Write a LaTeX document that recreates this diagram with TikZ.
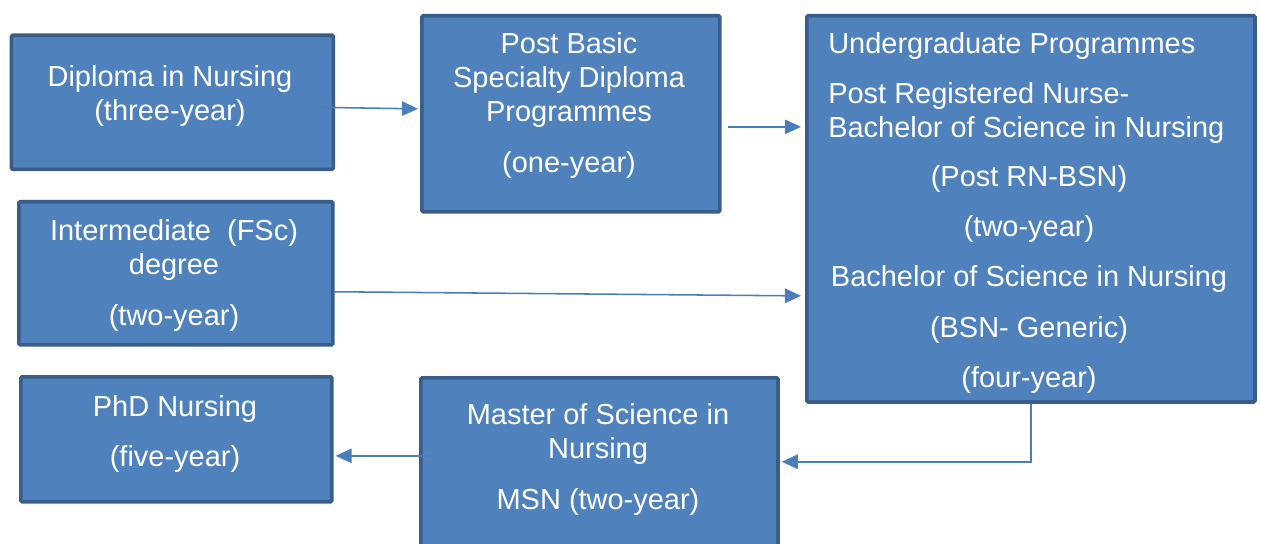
\documentclass[tikz,border=0pt]{standalone}
\usepackage{fontspec}
\setmainfont{Liberation Sans}
\usepackage{tikz}
\usetikzlibrary{positioning,calc,arrows.meta}
\definecolor{nsfill}{HTML}{4F81BD}
\definecolor{nsedge}{HTML}{385D8A}
\definecolor{nsline}{HTML}{4A7EBB}

\begin{document}
\begin{tikzpicture}[x=0.025cm, y=-0.025cm,
  box/.style={draw=nsedge, fill=nsfill, line width=2.6pt, rounded corners=1pt, anchor=north west, inner sep=0pt},
  txt/.style={text=white, font=\fontsize{20.6pt}{24.2pt}\selectfont, align=center, inner sep=0pt, yshift=-0.075cm},
  conn/.style={draw=nsline, line width=1.1pt, -{Triangle[length=0.4cm,width=0.36cm]}},
]
\clip (0,0) rectangle (1261,544);
% ---------- boxes ----------
\node[box, minimum width=8.05cm, minimum height=3.35cm] (dip) at (9.5,33.5) {};
\node[box, minimum width=7.45cm, minimum height=4.9cm] (pb) at (420,14) {};
\node[box, minimum width=11.2cm, minimum height=9.65cm] (ug) at (805,14) {};
\node[box, minimum width=7.85cm, minimum height=3.575cm] (int) at (17,200) {};
\node[box, minimum width=7.775cm, minimum height=3.125cm] (phd) at (19,375) {};
\node[box, minimum width=8.925cm, minimum height=5.6cm] (msn) at (419,376) {};
% ---------- texts ----------
\node[txt] (tdip) at (170,93) {Diploma in Nursing\\(three-year)};
\node[txt] (tpb) at (569,102.5) {Post Basic\\Specialty Diploma\\Programmes\\[0.42cm](one-year)};
\node[txt, align=left, anchor=west] (tug) at (828,85) {Undergraduate Programmes\\[0.4cm]Post Registered Nurse-\\Bachelor of Science in Nursing};
\node[txt] (tugb) at (1029,276.5) {(Post RN-BSN)\\[0.4cm](two-year)\\[0.4cm]Bachelor of Science in Nursing\\[0.4cm](BSN- Generic)\\[0.4cm](four-year)};
\node[txt] (tint) at (174,272.5) {Intermediate~~(FSc)\\degree\\[0.4cm](two-year)};
\node[txt] (tphd) at (175,431) {PhD Nursing\\[0.4cm](five-year)};
\node[txt] (tmsn) at (598,456.5) {Master of Science in\\Nursing\\[0.4cm]MSN (two-year)};
% ---------- connectors ----------
\draw[conn] ([xshift=-0.375cm,yshift=-0.125cm]dip.east) -- ([xshift=-0.05cm,yshift=0.125cm]pb.west);
\draw[conn] ([xshift=0.15cm,yshift=-0.325cm]pb.east) coordinate (a) -- ([xshift=-0.1cm]a -| ug.west);
\draw[conn] ([xshift=-0.025cm,yshift=-0.46cm]int.east) -- ([xshift=-0.1cm,yshift=-2.175cm]ug.west);
\coordinate (bend) at ($(ug.south)+(0,58)$);
\draw[conn] (ug.south) -- (bend) -- ([xshift=0.05cm]bend -| msn.east);
\draw[conn] ([xshift=0.275cm,yshift=0.85cm]msn.west) coordinate (b) -- ([xshift=0.05cm]b -| phd.east);
\end{tikzpicture}
\end{document}
